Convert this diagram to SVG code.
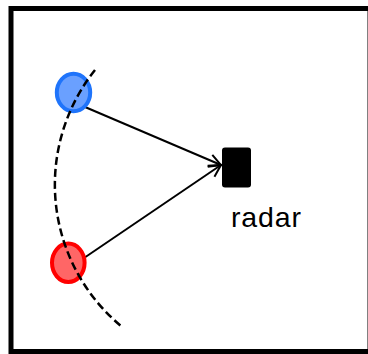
<svg xmlns="http://www.w3.org/2000/svg" width="368" height="354" viewBox="0 0 368 354">
<style>
.conn{stroke:#000;stroke-width:2;fill:none}
.lbl{font-family:"Liberation Sans",Arial,sans-serif;font-size:28.5px;fill:#000}
</style>
<defs>
<marker id="arr" markerUnits="userSpaceOnUse" markerWidth="16" markerHeight="16" refX="13" refY="7" orient="auto" overflow="visible">
<path d="M1,1 L13,7 L1,13" fill="none" stroke="#000" stroke-width="2"/>
</marker>
</defs>
<rect x="0" y="0" width="368" height="354" fill="#fff"/>
<rect id="frame" x="11" y="8.5" width="359" height="343" fill="none" stroke="#000" stroke-width="5"/>
<g id="connectors">
<line class="conn" x1="85" y1="107" x2="221" y2="165" marker-end="url(#arr)"/>
<line class="conn" x1="84" y1="258" x2="221" y2="165" marker-end="url(#arr)"/>
</g>
<g id="blue">
<ellipse cx="73.5" cy="92.5" rx="16.7" ry="18.8" fill="#6aa0ff" stroke="#1f74fb" stroke-width="4"/>
</g>
<g id="red">
<ellipse cx="68.3" cy="262.8" rx="16.3" ry="19.2" fill="#ff6666" stroke="#ff0000" stroke-width="4"/>
</g>
<g id="radar">
<rect x="222" y="147.5" width="29" height="40" rx="3" fill="#000"/>
<text class="lbl" x="231" y="227" textLength="70" lengthAdjust="spacing">radar</text>
</g>
<g id="range-arc">
<path d="M95,70 A184,184 0 0,0 121,326" fill="none" stroke="#000" stroke-width="2.5" stroke-dasharray="8,4"/>
</g>
</svg>
